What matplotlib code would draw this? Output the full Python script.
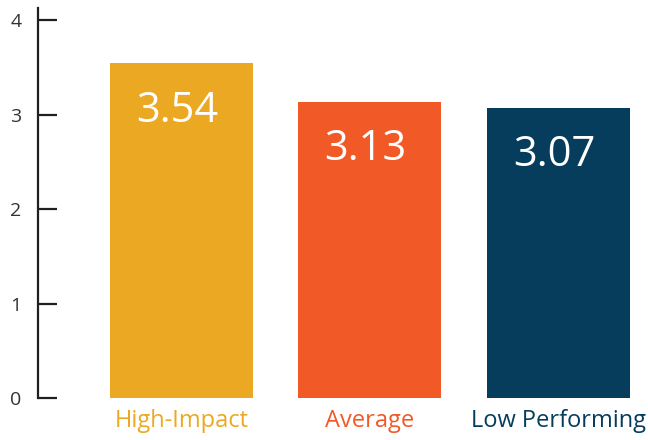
import matplotlib.pyplot as plt

categories = ['High-Impact', 'Average', 'Low Performing']
values = [3.54, 3.13, 3.07]
colors = ['#EBA823', '#F15A27', '#063D5C']
yticks = [0, 1, 2, 3, 4]

plt.rcParams['font.family'] = ['Open Sans', 'DejaVu Sans']

fig = plt.figure(figsize=(6.48, 4.4), dpi=100)
ax = fig.add_axes([38 / 648, 42 / 440, 607 / 648, 390 / 440])

x = range(len(categories))
bars = ax.bar(x, values, width=0.76, color=colors, zorder=2)

for bar, v in zip(bars, values):
    ax.annotate(f'{v:.2f}', (bar.get_x() + bar.get_width() / 2, v),
                xytext=(-3, -34), textcoords='offset points',
                ha='center', va='center', color='white', fontsize=30)

ax.set_xlim(-0.761, 2.46)
ax.set_ylim(0, 4.127)
ax.set_yticks(yticks)
ax.set_yticklabels([str(t) for t in yticks], fontsize=14, color='#333333')
ax.tick_params(axis='y', direction='in', length=14, width=1.6, pad=12, color='#231F20')

ax.set_xticks(list(x))
ax.set_xticklabels(categories, fontsize=17)
for lbl, c in zip(ax.get_xticklabels(), colors):
    lbl.set_color(c)
ax.tick_params(axis='x', length=0, pad=8)

for s in ['top', 'right', 'bottom']:
    ax.spines[s].set_visible(False)
ax.spines['left'].set_linewidth(1.6)
ax.spines['left'].set_color('#231F20')

fig.savefig('out.png', dpi=100)
